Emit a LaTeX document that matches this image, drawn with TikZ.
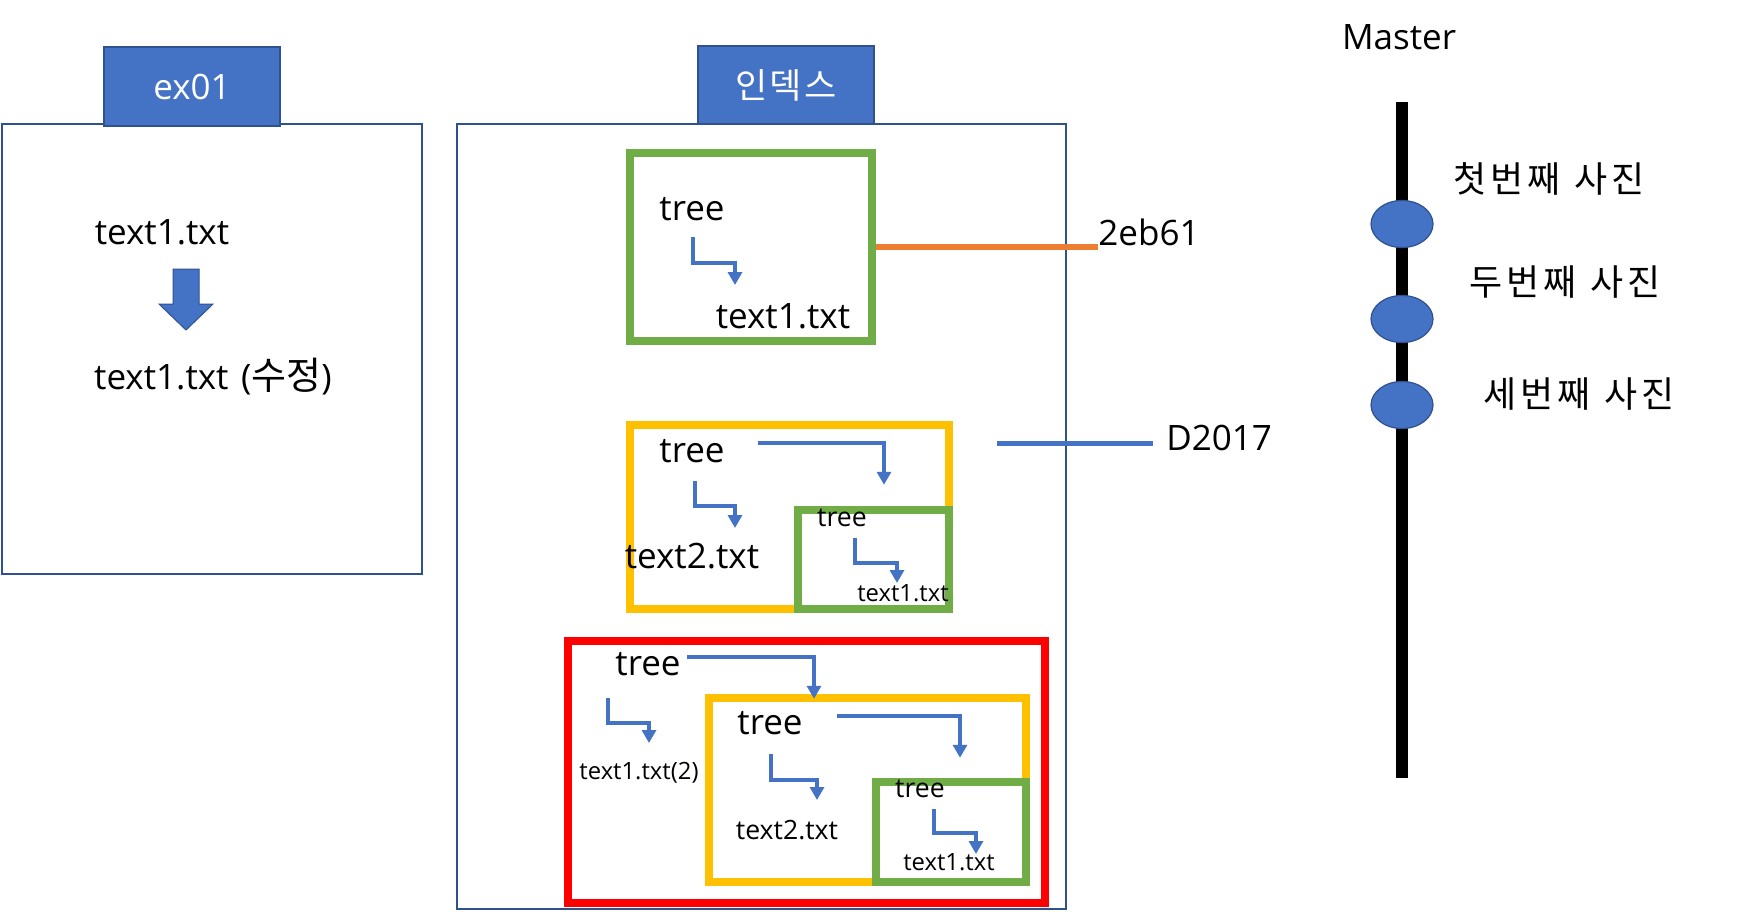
\documentclass[tikz,border=0pt]{standalone}
\usepackage{fontspec}
\setmainfont{Open Sans}
\newfontfamily\kr{Noto Sans CJK KR}
\usetikzlibrary{arrows.meta, positioning, fit, calc, shapes.geometric}
\definecolor{tabblue}{HTML}{4472C4}
\definecolor{edgeblue}{HTML}{2F528F}
\definecolor{treegreen}{HTML}{70AD47}
\definecolor{treeyellow}{HTML}{FFC000}
\definecolor{treered}{HTML}{FF0000}
\definecolor{hashorange}{HTML}{ED7D31}
\tikzset{
    bigtxt/.style={inner sep=0pt, font=\fontsize{17.5}{21}\selectfont},
    midtxt/.style={inner sep=0pt, font=\fontsize{13.3}{16}\selectfont},
    smalltxt/.style={inner sep=0pt, font=\fontsize{11.9}{14}\selectfont},
    tabbox/.style={fill=tabblue, draw=edgeblue, line width=1pt, inner sep=0pt},
    tabtxt/.style={inner sep=0pt, text=white, font=\fontsize{17.5}{21}\selectfont},
    area/.style={draw=edgeblue, line width=1pt, inner sep=0pt},
    snapbox/.style={draw, line width=4.25pt, inner sep=0pt},
    greenbox/.style={snapbox, draw=treegreen},
    yellowbox/.style={snapbox, draw=treeyellow},
    redbox/.style={snapbox, draw=treered},
    elbow/.style={draw=tabblue, line width=2.3pt, -{Triangle[width=7pt,length=6.5pt]}},
    blockarrow/.style={fill=tabblue, draw=edgeblue, line width=0.5pt},
    hashline/.style={line width=2.8pt},
    commit/.style={ellipse, fill=tabblue, draw=edgeblue, line width=0.6pt,
        minimum width=31pt, minimum height=23.5pt, inner sep=0pt},
    committxt/.style={inner sep=0pt, font=\kr\fontsize{18}{21}\selectfont}
}
% spaced hangul, as in the slide
\newcommand{\ks}{\kern1.8pt}

\begin{document}
\begin{tikzpicture}[x=0.5pt, y=-0.5pt]
    \useasboundingbox (0,0) rectangle (1755,911);
    \fill[white] (0,0) rectangle (1755,911);

    % working directory
    \node[area, fit={(1.5,124) (422,574)}] (workdir) {};
    \node[tabbox, fit={(104,47) (280,126)}] (tabwork) {};
    \node[tabtxt] at (tabwork.center) (tabworktxt) {ex01};
    \node[bigtxt] at (162,232) (orig) {text1.txt};
    \node[bigtxt] at (213,377) (modified) {text1.txt\hspace{0.1em} ({\kr\fontsize{19}{21}\selectfont 수정})};
    \draw[blockarrow] ($(orig)+(11,37)$) -- ++(26,0) -- ++(0,35) -- ++(14,0)
        -- ++(-27,26) -- ++(-27,-26) -- ++(14,0) -- cycle;

    % index
    \node[area, fit={(457,124) (1066,909)}] (index) {};
    \node[tabbox, fit={(698,46) (874,124)}] (tabindex) {};
    \node[tabtxt] at (tabindex.center) (tabindextxt) {\kr 인\kern1pt 덱\kern1pt 스};

    % first snapshot
    \node[greenbox, fit={(630,153) (872,341)}] (boxA) {};
    \node[bigtxt] at (692,209) (treeA) {tree};
    \node[bigtxt] at (783,316) (fileA) {text1.txt};
    \draw[elbow] ($(treeA)+(1,28)$) -- ++(0,26) -| ($(fileA)+(-48,-31)$);

    % second snapshot
    \node[yellowbox, fit={(630,425) (949,609)}] (boxB) {};
    \node[greenbox, fit={(798,510) (949,609)}] (boxC) {};
    \node[bigtxt] at (692,451) (treeB) {tree};
    \node[bigtxt] at (692,556) (fileB) {text2.txt};
    \node[midtxt] at (842,518) (treeC) {tree};
    \node[smalltxt] at (903,593) (fileC) {text1.txt};
    \draw[elbow] ($(treeB)+(66,-8)$) -| ($(boxC.north)+(10.5,-21)$);
    \draw[elbow] ($(treeB)+(3,30)$) -- ++(0,25) -| ($(fileB)+(43,-28)$);
    \draw[elbow] ($(treeC)+(13,20)$) -- ++(0,25) -| ($(fileC)+(-6,-10)$);

    % third snapshot
    \node[redbox, fit={(568,641) (1045,903)}] (boxD) {};
    \node[yellowbox, fit={(709,698) (1026,882)}] (boxE) {};
    \node[greenbox, fit={(876,782) (1026,882)}] (boxF) {};
    \node[bigtxt] at (648,664) (treeD) {tree};
    \node[smalltxt] at (639,773) (fileD) {text1.txt(2)};
    \node[bigtxt] at (770,723) (treeE) {tree};
    \node[midtxt] at (787,830) (fileE) {text2.txt};
    \node[midtxt] at (920,789) (treeF) {tree};
    \node[smalltxt] at (949,862) (fileF) {text1.txt};
    \draw[elbow] ($(treeD)+(39,-7)$) -| ($(boxE.north)+(-53.5,5)$);
    \draw[elbow] ($(treeD)+(-40,34)$) -- ++(0,25) -| ($(fileD)+(10,-30)$);
    \draw[elbow] ($(treeE)+(67,-7)$) -| ($(boxF.north)+(9,-20)$);
    \draw[elbow] ($(treeE)+(1,31)$) -- ++(0,26) -| ($(fileE)+(30,-30)$);
    \draw[elbow] ($(treeF)+(14,20)$) -- ++(0,24) -| ($(fileF)+(27,-8)$);

    % hashes
    \node[bigtxt, anchor=west] at (1098,232) (hashA) {2eb61};
    \node[bigtxt, anchor=west] at (1166,438) (hashB) {D2017};
    \coordinate (hashBstart) at (997,443);
    \draw[hashline, hashorange] (boxA.east) -- (boxA.east -| hashA.west);
    \draw[hashline, tabblue, line width=2.5pt] (hashBstart) -- ($(hashBstart -| hashB.west)+(-13,0)$);

    % master branch
    \node[bigtxt] at (1399,37) (master) {Master};
    \coordinate (branchtop) at (1402,102);
    \coordinate (branchend) at (1402,778);
    \draw[line width=6pt] (branchtop) -- (branchend);
    \node[commit] at (1402,224) (c1) {};
    \node[commit] at (1402,319) (c2) {};
    \node[commit] at (1402,405) (c3) {};
    \node[committxt] at (1549,179) (c1txt) {첫\ks 번\ks 째\hspace{0.4em}사\ks 진};
    \node[committxt] at (1565,282) (c2txt) {두\ks 번\ks 째\hspace{0.4em}사\ks 진};
    \node[committxt] at (1579,394) (c3txt) {세\ks 번\ks 째\hspace{0.4em}사\ks 진};
\end{tikzpicture}
\end{document}
